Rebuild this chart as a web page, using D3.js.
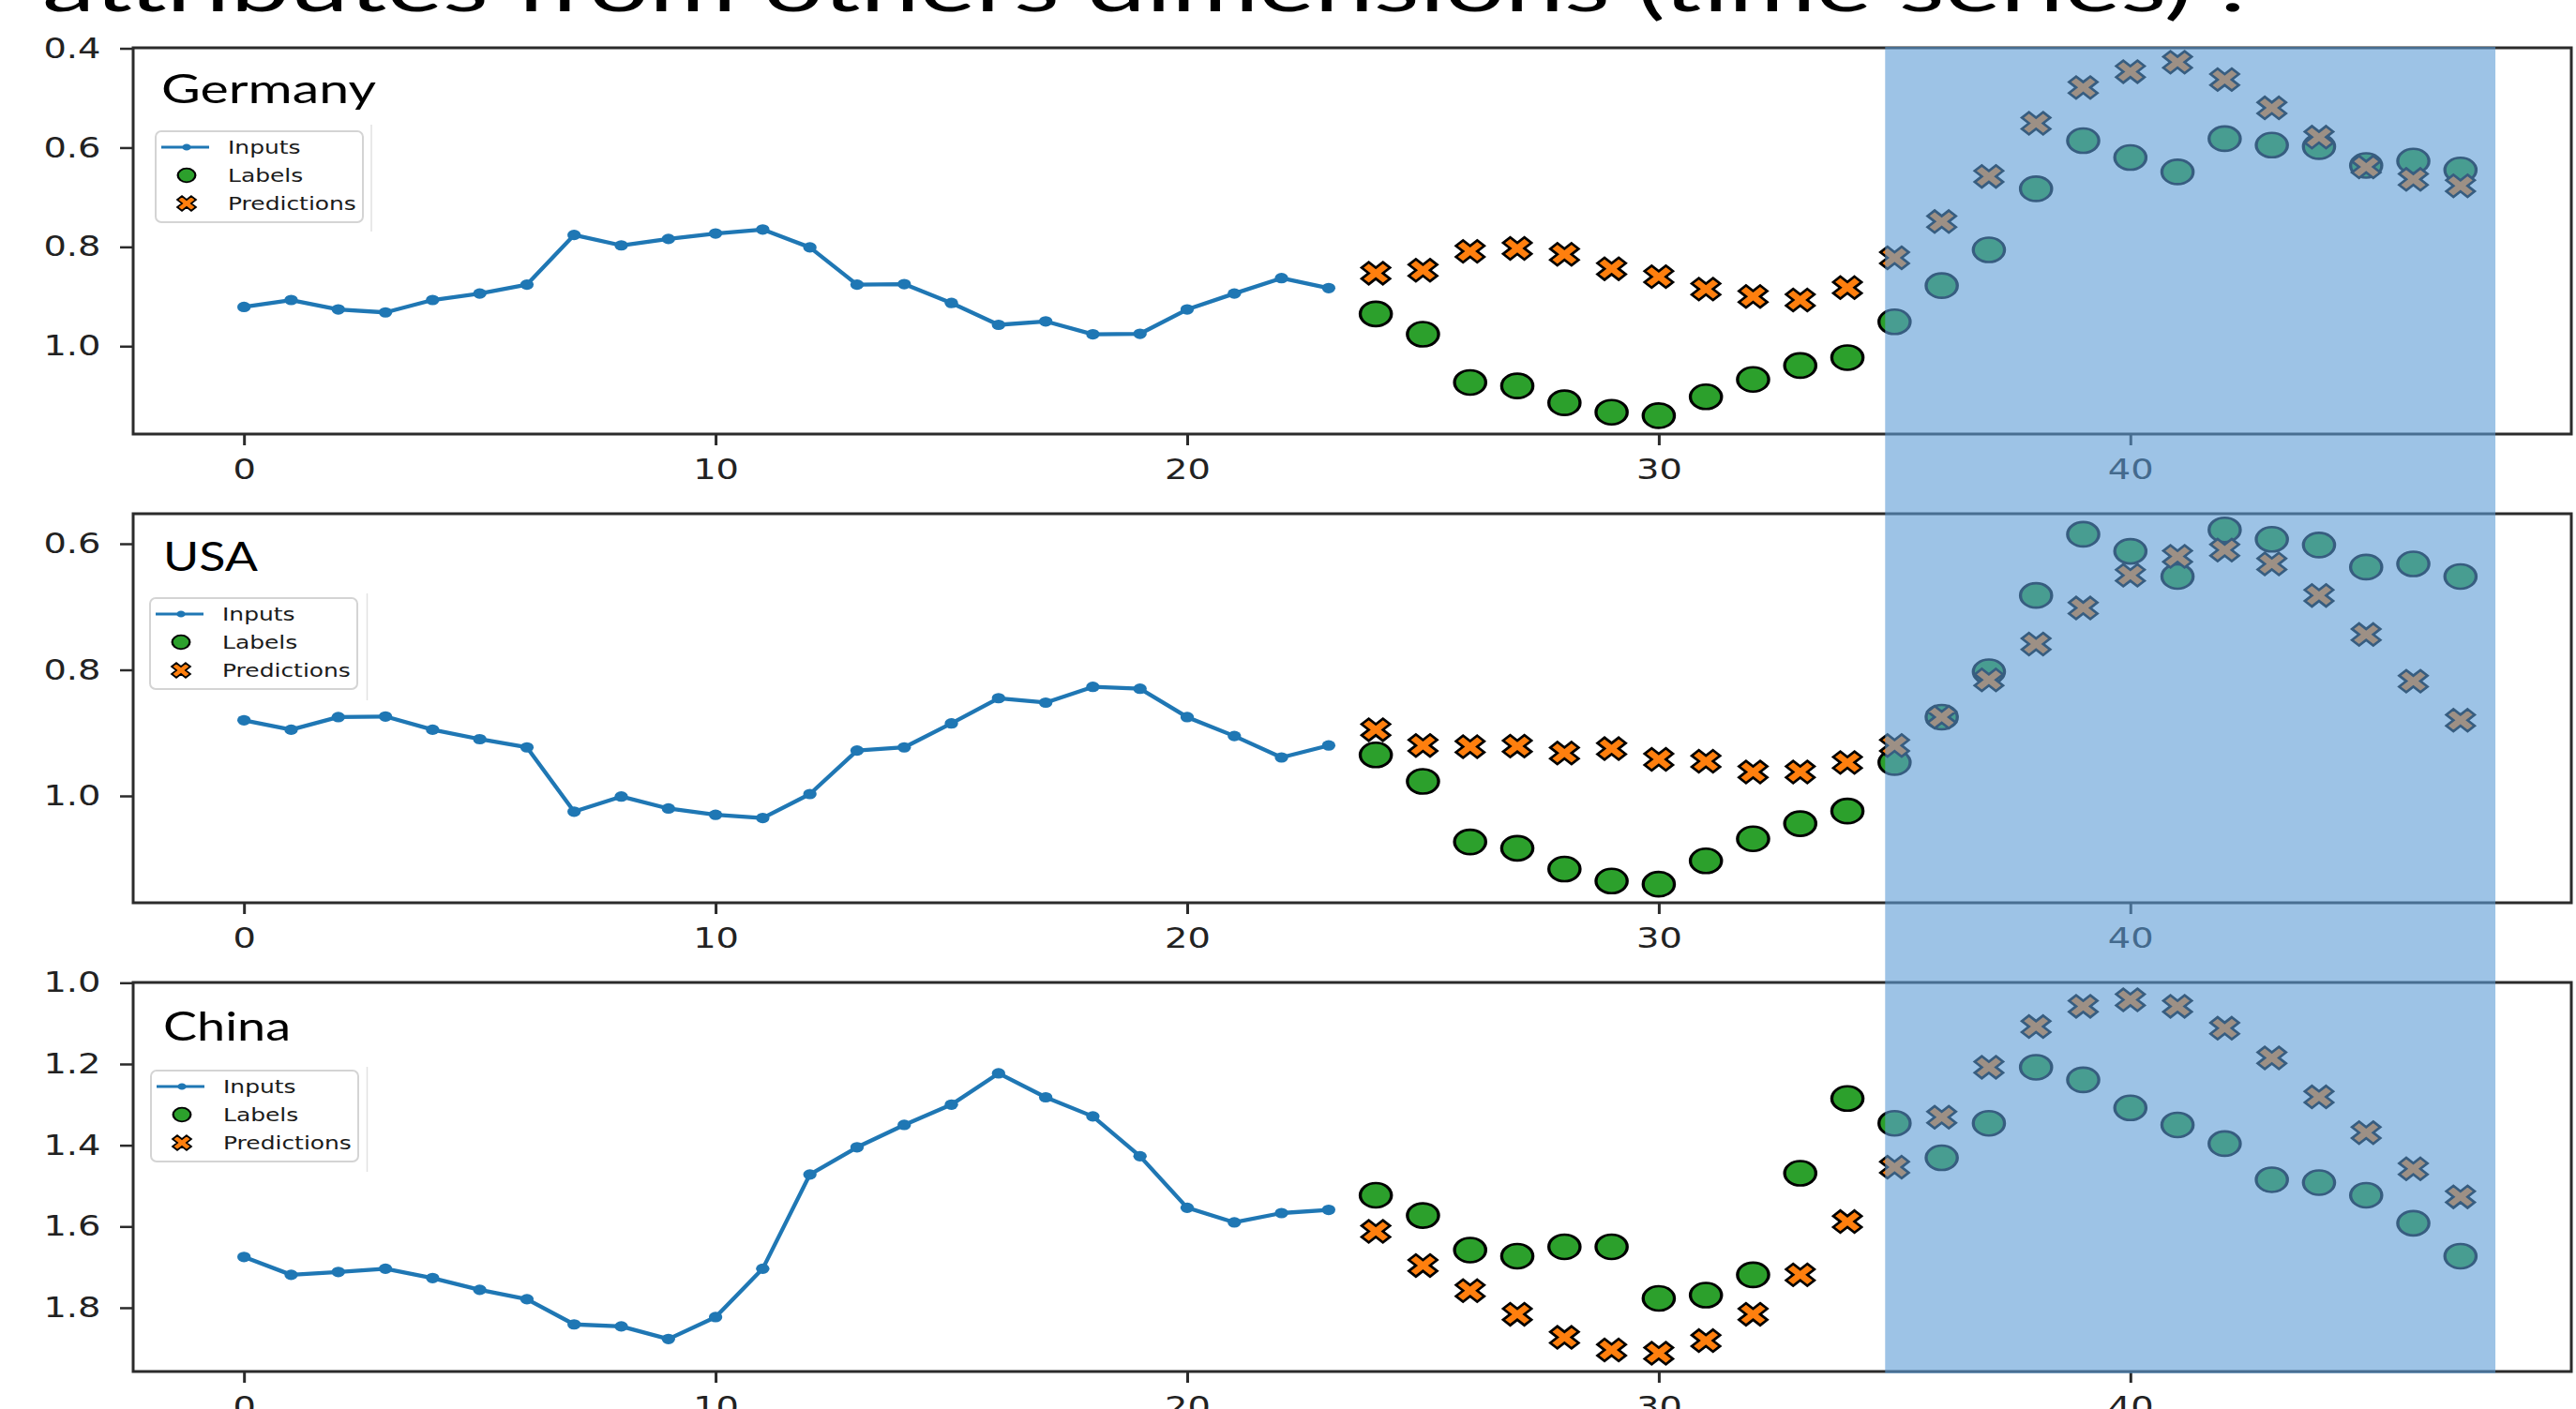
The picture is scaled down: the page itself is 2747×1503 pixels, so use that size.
<!DOCTYPE html>
<html>
<head>
<meta charset="utf-8">
<script src="https://cdn.jsdelivr.net/npm/d3@7"></script>
<style>
  html, body { margin: 0; padding: 0; background: #ffffff; }
  svg { display: block; }
</style>
</head>
<body>
<svg id="chart" width="2747" height="1503"></svg>
<script>
// ---------------- DATA ----------------
const heading = "attributes from others dimensions (time series) :";
const countries = ["Germany", "USA", "China"];
const seriesNames = ["Inputs", "Labels", "Predictions"];

const inputSteps = [0,1,2,3,4,5,6,7,8,9,10,11,12,13,14,15,16,17,18,19,20,21,22,23];
const labelSteps = [24,25,26,27,28,29,30,31,32,33,34,35,36,37,38,39,40,41,42,43,44,45,46,47];

const germanyInputs = [0.921,0.907,0.926,0.932,0.907,0.894,0.876,0.776,0.797,0.784,0.773,0.765,0.801,0.876,0.875,0.913,0.957,0.950,0.976,0.975,0.926,0.894,0.863,0.883];
const germanyLabels = [0.935,0.976,1.073,1.080,1.114,1.133,1.140,1.102,1.067,1.039,1.023,0.951,0.878,0.806,0.683,0.586,0.620,0.649,0.582,0.595,0.598,0.636,0.627,0.645];
const germanyPredictions = [0.853,0.847,0.809,0.803,0.815,0.844,0.860,0.885,0.900,0.907,0.882,0.822,0.749,0.658,0.551,0.479,0.447,0.428,0.463,0.520,0.579,0.639,0.664,0.677];

const usaInputs = [0.880,0.895,0.875,0.874,0.895,0.910,0.923,1.025,1.001,1.020,1.030,1.035,0.997,0.928,0.923,0.885,0.845,0.852,0.827,0.830,0.875,0.905,0.939,0.920];
const usaLabels = [0.935,0.977,1.073,1.083,1.116,1.135,1.140,1.103,1.068,1.044,1.024,0.947,0.875,0.803,0.682,0.585,0.612,0.652,0.578,0.593,0.602,0.637,0.632,0.652];
const usaPredictions = [0.895,0.920,0.922,0.921,0.932,0.925,0.942,0.945,0.962,0.962,0.947,0.920,0.875,0.816,0.759,0.702,0.650,0.620,0.610,0.632,0.682,0.744,0.818,0.880];

const chinaInputs = [1.675,1.719,1.712,1.704,1.727,1.756,1.779,1.841,1.846,1.877,1.823,1.704,1.472,1.405,1.350,1.300,1.223,1.282,1.329,1.427,1.554,1.590,1.567,1.559];
const chinaLabels = [1.523,1.573,1.658,1.673,1.650,1.650,1.777,1.769,1.719,1.469,1.285,1.346,1.431,1.346,1.208,1.239,1.308,1.350,1.396,1.485,1.492,1.523,1.592,1.673];
const chinaPredictions = [1.612,1.696,1.758,1.816,1.873,1.904,1.912,1.881,1.816,1.719,1.588,1.454,1.331,1.208,1.108,1.058,1.042,1.058,1.112,1.185,1.281,1.369,1.458,1.527];

const xTicks = [0, 10, 20, 30, 40];
const germanyYTicks = [0.4, 0.6, 0.8, 1.0];
const usaYTicks = [0.6, 0.8, 1.0];
const chinaYTicks = [1.0, 1.2, 1.4, 1.6, 1.8];

// highlighted step range (shaded band)
const highlightSteps = [34.8, 47.74];

// ---------------- LAYOUT / STYLE ----------------
const SX = 1.28;               // horizontal stretch of the source picture
const xDomain = [-2.35, 49.35];
const plotLeft = 142, plotRight = 2742;

const panels = [
  { name: countries[0], inputs: germanyInputs, labels: germanyLabels, preds: germanyPredictions,
    yTicks: germanyYTicks, yDomain: [0.399, 1.177], top: 51, bottom: 463,
    legend: [166, 140], title: [172, 110, 229], guide: [396, 133, 247] },
  { name: countries[1], inputs: usaInputs, labels: usaLabels, preds: usaPredictions,
    yTicks: usaYTicks, yDomain: [0.5524, 1.1695], top: 548, bottom: 963,
    legend: [160, 638], title: [174, 609, 101], guide: [391.5, 633, 747] },
  { name: countries[2], inputs: chinaInputs, labels: chinaLabels, preds: chinaPredictions,
    yTicks: chinaYTicks, yDomain: [0.9993, 1.957], top: 1048, bottom: 1463,
    legend: [161, 1142], title: [174, 1110, 136], guide: [391.5, 1138, 1250] }
];

const C_INPUT = "#1f77b4", C_LABEL = "#2ca02c", C_PRED = "#ff7f0e";
const SPINE = "#2b2b2b", TICKTXT = "#222222";

// matplotlib filled 'X' marker outline
function xMarkerPath(s) {
  const pts = [[-1,-3],[1,-3],[1,-1],[3,-1],[3,1],[1,1],[1,3],[-1,3],[-1,1],[-3,1],[-3,-1],[-1,-1]];
  const k = s / 6 / Math.SQRT2;
  return "M" + pts.map(([a,b]) => [(a - b) * k, (a + b) * k].map(v => v.toFixed(3)).join(",")).join("L") + "Z";
}
const circleSym = r => d3.symbol(d3.symbolCircle, Math.PI * r * r)();

const svg = d3.select("#chart");
const x = d3.scaleLinear().domain(xDomain).range([plotLeft, plotRight]);

// heading (cut at top of picture)
svg.append("text")
  .attr("x", 45).attr("y", 12)
  .attr("font-family", "Lato, 'Open Sans', sans-serif")
  .attr("font-size", 74)
  .attr("fill", "#000")
  .attr("textLength", 2350)
  .attr("lengthAdjust", "spacingAndGlyphs")
  .text(heading);

panels.forEach(p => {
  const y = d3.scaleLinear().domain(p.yDomain).range([p.top, p.bottom]);
  const g = svg.append("g");

  // y axis
  const ya = g.append("g").attr("transform", `translate(${plotLeft},0)`)
    .call(d3.axisLeft(y).tickValues(p.yTicks).tickFormat(d3.format(".1f")).tickSize(14).tickPadding(13));
  ya.select(".domain").remove();
  ya.selectAll(".tick line").attr("stroke", SPINE).attr("stroke-width", 2.5);
  ya.selectAll(".tick text")
    .attr("font-family", "'DejaVu Sans', sans-serif").attr("font-size", 30)
    .attr("fill", TICKTXT).attr("transform", `scale(${SX},1)`);

  // x axis
  const xa = g.append("g").attr("transform", `translate(0,${p.bottom})`)
    .call(d3.axisBottom(x).tickValues(xTicks).tickFormat(d3.format("d")).tickSize(12).tickPadding(15));
  xa.select(".domain").remove();
  xa.selectAll(".tick line").attr("stroke", SPINE).attr("stroke-width", 3);
  xa.selectAll(".tick text")
    .attr("font-family", "'DejaVu Sans', sans-serif").attr("font-size", 30)
    .attr("fill", TICKTXT).attr("transform", `scale(${SX},1)`);

  // inputs line
  const line = d3.line().x((d, i) => x(inputSteps[i])).y(d => y(d));
  g.append("path").datum(p.inputs)
    .attr("d", line).attr("fill", "none")
    .attr("stroke", C_INPUT).attr("stroke-width", 4.3).attr("stroke-linejoin", "round");
  g.selectAll(".idot").data(p.inputs).join("ellipse")
    .attr("cx", (d, i) => x(inputSteps[i])).attr("cy", d => y(d))
    .attr("rx", 5.6 * SX).attr("ry", 5.6).attr("fill", C_INPUT);

  // labels (circles)
  g.selectAll(".lab").data(p.labels).join("path")
    .attr("transform", (d, i) => `translate(${x(labelSteps[i])},${y(d)}) scale(${SX},1)`)
    .attr("d", circleSym(13))
    .attr("fill", C_LABEL).attr("stroke", "#000").attr("stroke-width", 2.6);

  // predictions (X markers)
  g.selectAll(".pred").data(p.preds).join("path")
    .attr("transform", (d, i) => `translate(${x(labelSteps[i])},${y(d)}) scale(${SX},1)`)
    .attr("d", xMarkerPath(25))
    .attr("fill", C_PRED).attr("stroke", "#000").attr("stroke-width", 2.4).attr("stroke-linejoin", "miter");

  // frame
  g.append("rect")
    .attr("x", plotLeft).attr("y", p.top)
    .attr("width", plotRight - plotLeft).attr("height", p.bottom - p.top)
    .attr("fill", "none").attr("stroke", SPINE).attr("stroke-width", 3);

  // panel title
  g.append("text")
    .attr("x", p.title[0]).attr("y", p.title[1])
    .attr("font-family", "Lato, 'Open Sans', sans-serif").attr("font-size", 43)
    .attr("fill", "#000")
    .attr("textLength", p.title[2]).attr("lengthAdjust", "spacingAndGlyphs")
    .text(p.name);

  // faint edge next to the legend
  g.append("line")
    .attr("x1", p.guide[0]).attr("x2", p.guide[0]).attr("y1", p.guide[1]).attr("y2", p.guide[2])
    .attr("stroke", "#e2e2e2").attr("stroke-width", 1.5);

  // legend
  const [lx, ly] = p.legend;
  const lg = g.append("g").attr("transform", `translate(${lx},${ly})`);
  lg.append("rect").attr("width", 221).attr("height", 97).attr("rx", 6)
    .attr("fill", "#fff").attr("fill-opacity", 0.9)
    .attr("stroke", "#d4d4d4").attr("stroke-width", 2);
  const rows = [17, 47, 77];
  // Inputs handle
  lg.append("line").attr("x1", 6).attr("x2", 57).attr("y1", rows[0]).attr("y2", rows[0])
    .attr("stroke", C_INPUT).attr("stroke-width", 3);
  lg.append("ellipse").attr("cx", 33).attr("cy", rows[0]).attr("rx", 3.6 * SX).attr("ry", 3.6).attr("fill", C_INPUT);
  // Labels handle
  lg.append("path").attr("transform", `translate(33,${rows[1]}) scale(${SX},1)`)
    .attr("d", circleSym(7.3)).attr("fill", C_LABEL).attr("stroke", "#000").attr("stroke-width", 1.8);
  // Predictions handle
  lg.append("path").attr("transform", `translate(33,${rows[2]}) scale(${SX},1)`)
    .attr("d", xMarkerPath(16.5)).attr("fill", C_PRED).attr("stroke", "#000").attr("stroke-width", 1.6);
  seriesNames.forEach((s, i) => {
    lg.append("text")
      .attr("transform", `translate(77,${rows[i]}) scale(${SX},1)`)
      .attr("dy", "0.36em")
      .attr("font-family", "'DejaVu Sans', sans-serif").attr("font-size", 19.5)
      .attr("fill", "#1a1a1a").text(s);
  });
});

// translucent highlight band drawn over all three panels
svg.append("rect")
  .attr("x", x(highlightSteps[0])).attr("y", panels[0].top - 1)
  .attr("width", x(highlightSteps[1]) - x(highlightSteps[0]))
  .attr("height", panels[2].bottom + 2 - (panels[0].top - 1))
  .attr("fill", "rgb(91,155,213)").attr("fill-opacity", 0.6);
</script>
</body>
</html>
